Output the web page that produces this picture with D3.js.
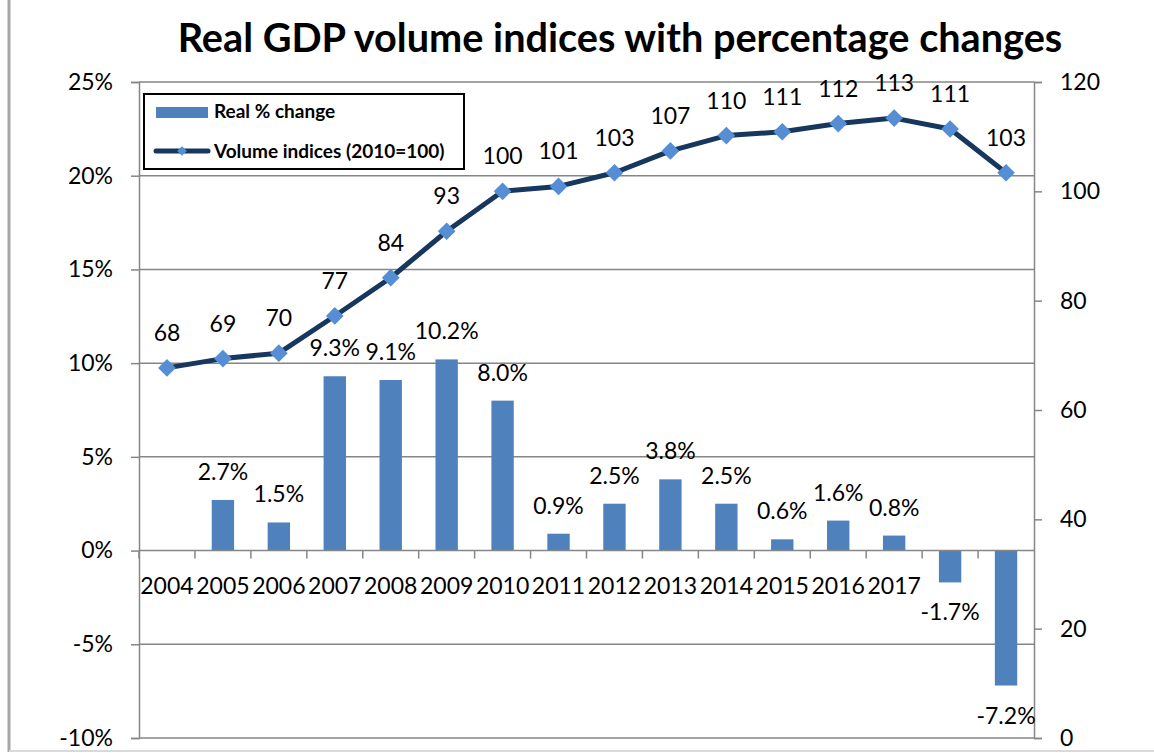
<!DOCTYPE html>
<meta charset="utf-8">
<style>
    body {
        margin: 0;
        background: #fff;
    }

    text {
        font-family: Lato, "Open Sans", sans-serif;
        fill: #000;
    }

    .grid line {
        stroke: #868686;
        stroke-width: 1.5px;
    }
</style>

<body>
    <script src="https://d3js.org/d3.v7.min.js"></script>
    <script>
        var years = ["2004", "2005", "2006", "2007", "2008", "2009", "2010", "2011",
            "2012", "2013", "2014", "2015", "2016", "2017", "2018", "2019"];
        var yearLabels = ["2004", "2005", "2006", "2007", "2008", "2009", "2010", "2011",
            "2012", "2013", "2014", "2015", "2016", "2017", "", ""];

        // real % change (no bar for 2004)
        var realChange = [null, 2.7, 1.5, 9.3, 9.1, 10.2, 8.0, 0.9,
            2.5, 3.8, 2.5, 0.6, 1.6, 0.8, -1.7, -7.2];

        // volume indices, 2010 = 100
        var volumeIndex = [67.7, 69.4, 70.4, 77.2, 84.2, 92.7, 100, 100.9,
            103.4, 107.4, 110.2, 110.9, 112.4, 113.4, 111.4, 103.4];

        var leftTicks = [-10, -5, 0, 5, 10, 15, 20, 25];
        var rightTicks = [0, 20, 40, 60, 80, 100, 120];

        var width = 1154,
            height = 753,
            margin = { top: 82, right: 120, bottom: 15, left: 139 };

        var innerW = 1034 - margin.left,
            innerH = 738 - margin.top;

        var fs = "23px";
        var hyphen = function (s) { return s.replace("\u2212", "-"); };

        var svg = d3.select("body").append("svg")
            .attr("width", width)
            .attr("height", height);

        // chart area border (left and bottom edges visible)
        svg.append("line")
            .attr("x1", 9).attr("x2", 9).attr("y1", 0).attr("y2", 752)
            .attr("stroke", "#a6a6a6").attr("stroke-width", 3);
        svg.append("line")
            .attr("x1", 9).attr("x2", width).attr("y1", 751).attr("y2", 751)
            .attr("stroke", "#d9d9d9").attr("stroke-width", 2);

        var title = svg.append("text")
            .attr("x", 620)
            .attr("y", 52)
            .attr("text-anchor", "middle")
            .style("font-weight", "bold")
            .style("font-size", "38px")
            .text("Real GDP volume indices with percentage changes");
        // squeeze to the width of the original title
        var tl = title.node().getComputedTextLength();
        title.style("font-size", (38 * 885 / tl) + "px");

        var g = svg.append("g")
            .attr("transform", "translate(" + margin.left + "," + margin.top + ")");

        var x = d3.scaleBand()
            .domain(years)
            .range([0, innerW])
            .paddingInner(0.6)
            .paddingOuter(0.3);

        var yL = d3.scaleLinear().domain([-10, 25]).range([innerH, 0]);
        var yR = d3.scaleLinear().domain([0, 120]).range([innerH, 0]);

        // gridlines
        g.append("g").attr("class", "grid")
            .selectAll("line")
            .data(leftTicks.filter(function (d) { return d !== 0; }))
            .enter().append("line")
            .attr("x1", 0).attr("x2", innerW)
            .attr("y1", function (d) { return yL(d); })
            .attr("y2", function (d) { return yL(d); });

        // left axis
        var leftAxis = g.append("g")
            .call(d3.axisLeft(yL).tickValues(leftTicks)
                .tickFormat(function (d) { return d + "%"; })
                .tickSize(8).tickPadding(18));
        leftAxis.selectAll("line, path").attr("stroke", "#868686").attr("stroke-width", 1.5);
        leftAxis.selectAll("text").style("font-size", fs).style("font-family", "Lato");

        // right axis
        var rightAxis = g.append("g")
            .attr("transform", "translate(" + innerW + ",0)")
            .call(d3.axisRight(yR).tickValues(rightTicks)
                .tickSize(8).tickPadding(18));
        rightAxis.selectAll("line, path").attr("stroke", "#868686").attr("stroke-width", 1.5);
        rightAxis.selectAll("text").style("font-size", fs).style("font-family", "Lato");

        // bars
        var barData = years.map(function (y, i) { return { year: y, v: realChange[i] }; })
            .filter(function (d) { return d.v !== null; });

        g.selectAll("rect.bar")
            .data(barData)
            .enter().append("rect")
            .attr("class", "bar")
            .attr("x", function (d) { return x(d.year); })
            .attr("width", x.bandwidth())
            .attr("y", function (d) { return yL(Math.max(0, d.v)); })
            .attr("height", function (d) { return Math.abs(yL(d.v) - yL(0)); })
            .attr("fill", "#4f81bd");

        // x axis at 0%
        var half = (x.step() - x.bandwidth()) / 2;
        var xAxis = g.append("g").attr("transform", "translate(0," + yL(0) + ")");
        xAxis.append("line")
            .attr("x1", 0).attr("x2", innerW)
            .attr("stroke", "#868686").attr("stroke-width", 1.5);
        xAxis.selectAll("line.tick")
            .data(years)
            .enter().append("line")
            .attr("class", "tick")
            .attr("x1", function (d) { return x(d) - half; })
            .attr("x2", function (d) { return x(d) - half; })
            .attr("y1", 0).attr("y2", 8)
            .attr("stroke", "#868686").attr("stroke-width", 1.5);
        xAxis.selectAll("text")
            .data(years)
            .enter().append("text")
            .attr("x", function (d) { return x(d) + x.bandwidth() / 2; })
            .attr("y", 43)
            .attr("text-anchor", "middle")
            .style("font-size", fs)
            .text(function (d, i) { return yearLabels[i]; });

        // bar labels
        g.selectAll("text.barlabel")
            .data(barData)
            .enter().append("text")
            .attr("class", "barlabel")
            .attr("x", function (d) { return x(d.year) + x.bandwidth() / 2; })
            .attr("y", function (d) { return d.v >= 0 ? yL(d.v) - 20 : yL(d.v) + 38; })
            .attr("text-anchor", "middle")
            .style("font-size", fs)
            .text(function (d) { return hyphen(d3.format(".1f")(d.v)) + "%"; });

        // volume index line
        var lineData = years.map(function (y, i) { return { year: y, v: volumeIndex[i] }; });
        var cx = function (d) { return x(d.year) + x.bandwidth() / 2; };

        var line = d3.line()
            .x(cx)
            .y(function (d) { return yR(d.v); });

        g.append("path")
            .datum(lineData)
            .attr("d", line)
            .attr("fill", "none")
            .attr("stroke", "#17375e")
            .attr("stroke-width", 5)
            .attr("stroke-linejoin", "round");

        var diamond = d3.symbol().type(d3.symbolDiamond2).size(200);

        g.selectAll("path.marker")
            .data(lineData)
            .enter().append("path")
            .attr("class", "marker")
            .attr("d", diamond)
            .attr("transform", function (d) { return "translate(" + cx(d) + "," + yR(d.v) + ")"; })
            .attr("fill", "#558ed5");

        g.selectAll("text.linelabel")
            .data(lineData)
            .enter().append("text")
            .attr("class", "linelabel")
            .attr("x", cx)
            .attr("y", function (d) { return yR(d.v) - 27; })
            .attr("text-anchor", "middle")
            .style("font-size", fs)
            .text(function (d) { return d3.format(".0f")(d.v); });

        // legend
        var legend = svg.append("g");
        legend.append("rect")
            .attr("x", 144).attr("y", 94)
            .attr("width", 320).attr("height", 75)
            .attr("fill", "#fff")
            .attr("stroke", "#000").attr("stroke-width", 2);
        legend.append("rect")
            .attr("x", 156).attr("y", 107)
            .attr("width", 52).attr("height", 11)
            .attr("fill", "#4f81bd");
        legend.append("text")
            .attr("x", 214).attr("y", 118)
            .style("font-size", "19px").style("font-weight", "bold")
            .text("Real % change");
        legend.append("line")
            .attr("x1", 156).attr("x2", 208).attr("y1", 151).attr("y2", 151)
            .attr("stroke", "#17375e").attr("stroke-width", 5)
            .attr("stroke-linecap", "round");
        legend.append("path")
            .attr("d", d3.symbol().type(d3.symbolDiamond2).size(60))
            .attr("transform", "translate(182,151)")
            .attr("fill", "#558ed5");
        legend.append("text")
            .attr("x", 214).attr("y", 158)
            .style("font-size", "19px").style("font-weight", "bold")
            .text("Volume indices (2010=100)");
    </script>
</body>
